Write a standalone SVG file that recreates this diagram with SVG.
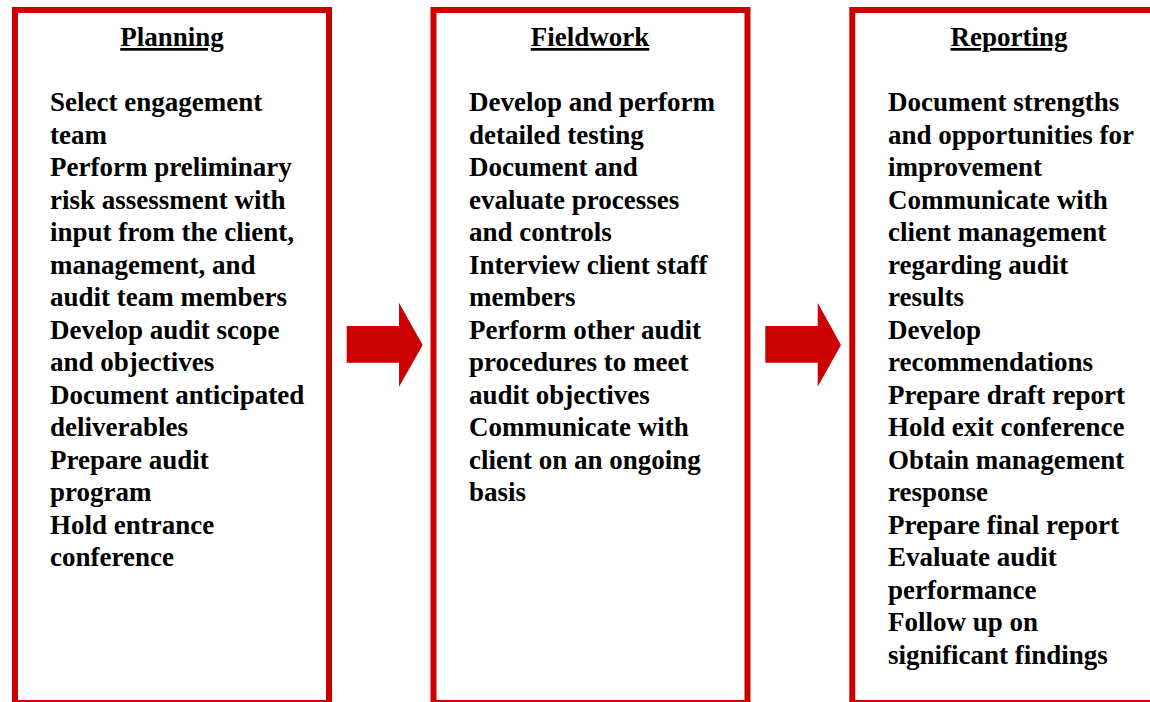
<svg xmlns="http://www.w3.org/2000/svg" width="1150" height="702" viewBox="0 0 1150 702">
  <style>
    .box { fill: #ffffff; stroke: #cc0000; stroke-width: 6; }
    .arrow { fill: #cc0000; stroke: none; }
    .title { font-family: "Liberation Serif", "Times New Roman", serif; font-weight: bold; font-size: 27px; fill: #000; text-anchor: middle; text-decoration: underline; }
    .item { font-family: "Liberation Serif", "Times New Roman", serif; font-weight: bold; font-size: 27px; fill: #000; }
  </style>
  <rect width="1150" height="702" fill="#ffffff"/>

  <g id="planning">
    <rect class="box" x="15" y="10" width="314" height="693"/>
    <text class="title" x="172" y="46">Planning</text>
    <text class="item" x="50" y="111">
      <tspan x="50" dy="0">Select engagement</tspan>
      <tspan x="50" dy="32.5">team</tspan>
      <tspan x="50" dy="32.5">Perform preliminary</tspan>
      <tspan x="50" dy="32.5">risk assessment with</tspan>
      <tspan x="50" dy="32.5">input from the client,</tspan>
      <tspan x="50" dy="32.5">management, and</tspan>
      <tspan x="50" dy="32.5">audit team members</tspan>
      <tspan x="50" dy="32.5">Develop audit scope</tspan>
      <tspan x="50" dy="32.5">and objectives</tspan>
      <tspan x="50" dy="32.5">Document anticipated</tspan>
      <tspan x="50" dy="32.5">deliverables</tspan>
      <tspan x="50" dy="32.5">Prepare audit</tspan>
      <tspan x="50" dy="32.5">program</tspan>
      <tspan x="50" dy="32.5">Hold entrance</tspan>
      <tspan x="50" dy="32.5">conference</tspan>
    </text>
  </g>

  <g id="fieldwork">
    <rect class="box" x="433.5" y="10" width="314" height="693"/>
    <text class="title" x="590" y="46">Fieldwork</text>
    <text class="item" x="469" y="111">
      <tspan x="469" dy="0">Develop and perform</tspan>
      <tspan x="469" dy="32.5">detailed testing</tspan>
      <tspan x="469" dy="32.5">Document and</tspan>
      <tspan x="469" dy="32.5">evaluate processes</tspan>
      <tspan x="469" dy="32.5">and controls</tspan>
      <tspan x="469" dy="32.5">Interview client staff</tspan>
      <tspan x="469" dy="32.5">members</tspan>
      <tspan x="469" dy="32.5">Perform other audit</tspan>
      <tspan x="469" dy="32.5">procedures to meet</tspan>
      <tspan x="469" dy="32.5">audit objectives</tspan>
      <tspan x="469" dy="32.5">Communicate with</tspan>
      <tspan x="469" dy="32.5">client on an ongoing</tspan>
      <tspan x="469" dy="32.5">basis</tspan>
    </text>
  </g>

  <g id="reporting">
    <rect class="box" x="852.3" y="10" width="314" height="693"/>
    <text class="title" x="1009" y="46">Reporting</text>
    <text class="item" x="888" y="111">
      <tspan x="888" dy="0">Document strengths</tspan>
      <tspan x="888" dy="32.5">and opportunities for</tspan>
      <tspan x="888" dy="32.5">improvement</tspan>
      <tspan x="888" dy="32.5">Communicate with</tspan>
      <tspan x="888" dy="32.5">client management</tspan>
      <tspan x="888" dy="32.5">regarding audit</tspan>
      <tspan x="888" dy="32.5">results</tspan>
      <tspan x="888" dy="32.5">Develop</tspan>
      <tspan x="888" dy="32.5">recommendations</tspan>
      <tspan x="888" dy="32.5">Prepare draft report</tspan>
      <tspan x="888" dy="32.5">Hold exit conference</tspan>
      <tspan x="888" dy="32.5">Obtain management</tspan>
      <tspan x="888" dy="32.5">response</tspan>
      <tspan x="888" dy="32.5">Prepare final report</tspan>
      <tspan x="888" dy="32.5">Evaluate audit</tspan>
      <tspan x="888" dy="32.5">performance</tspan>
      <tspan x="888" dy="32.5">Follow up on</tspan>
      <tspan x="888" dy="32.5">significant findings</tspan>
    </text>
  </g>

  <g id="connectors">
    <polygon class="arrow" points="346.7,326 399,326 399,302.7 422.7,345 399,386.7 399,362.7 346.7,362.7"/>
    <polygon class="arrow" points="765.3,326 817.7,326 817.7,302.7 841,345 817.7,386.7 817.7,362.7 765.3,362.7"/>
  </g>
</svg>
